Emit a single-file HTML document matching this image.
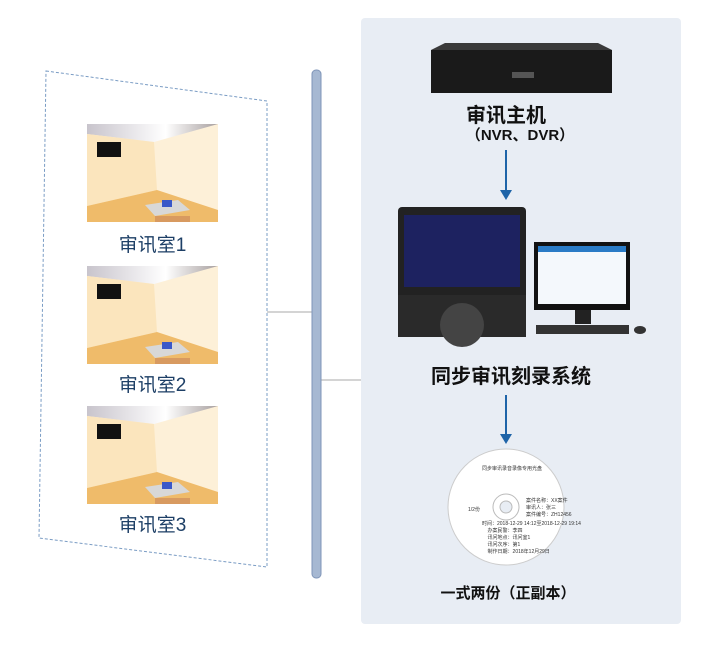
<!DOCTYPE html>
<html><head><meta charset="utf-8"><style>
body{margin:0;width:723px;height:646px;background:#fff;position:relative;overflow:hidden;font-family:"Liberation Sans","Noto Sans CJK SC",sans-serif}
.abs{position:absolute}
.panel{left:361px;top:18px;width:320px;height:606px;background:#e8edf4;border-radius:4px}
.lbl{color:#1d3f66;font-size:19px;width:131px;text-align:center;left:87px}
.t{color:#111;font-weight:bold;text-align:center;width:320px}
.d{font-size:5px;color:#333;position:absolute;white-space:nowrap}
</style></head><body>
<div class="abs panel"></div>
<svg class="abs" style="left:0;top:0" width="723" height="646">
<polygon points="46,71 267,101 267,567 39,538" fill="none" stroke="#7a9cc4" stroke-dasharray="3,2" stroke-width="1"/>
<line x1="267" y1="312" x2="313" y2="312" stroke="#aaa"/>
<line x1="321" y1="380" x2="361" y2="380" stroke="#aaa"/>
<rect x="312" y="70" width="9" height="508" rx="4" fill="#a6b8d2" stroke="#7f95b8"/>
<defs><linearGradient id="c" x1="0" x2="1"><stop offset="0" stop-color="#c8c4cc"/><stop offset=".6" stop-color="#fff"/><stop offset="1" stop-color="#a8a0a0"/></linearGradient></defs>
<g id="room">
<rect x="87" y="124" width="131" height="98" fill="#fdf0d8"/>
<polygon points="87,124 218,124 154,142 87,134" fill="url(#c)"/>
<polygon points="87,134 154,142 157,190 87,206" fill="#fbe5bd"/>
<polygon points="87,206 157,190 218,210 218,222 87,222" fill="#efbb6a"/>
<polygon points="145,205 178,200 190,210 155,216" fill="#d8d8d8"/>
<rect x="155" y="216" width="35" height="6" fill="#d89a60"/>
<rect x="162" y="200" width="10" height="7" fill="#3a58c8"/>
<rect x="97" y="142" width="24" height="15" fill="#111"/>
</g>
<use href="#room" y="142"/><use href="#room" y="282"/>
<polygon points="445,43 598,43 612,50 431,50" fill="#3a3a3a"/>
<rect x="431" y="50" width="181" height="43" fill="#1a1a1a"/>
<rect x="512" y="72" width="22" height="6" fill="#555"/>
<line x1="506" y1="150" x2="506" y2="192" stroke="#1e64a8" stroke-width="2"/><polygon points="500,190 512,190 506,200" fill="#1e64a8"/>
<line x1="506" y1="395" x2="506" y2="436" stroke="#1e64a8" stroke-width="2"/><polygon points="500,434 512,434 506,444" fill="#1e64a8"/>
<rect x="398" y="207" width="128" height="130" rx="4" fill="#222"/>
<rect x="404" y="215" width="116" height="72" fill="#1d2260"/>
<rect x="398" y="295" width="128" height="42" fill="#2a2a2a"/>
<circle cx="462" cy="325" r="22" fill="#444"/>
<rect x="534" y="242" width="96" height="68" fill="#111"/>
<rect x="538" y="246" width="88" height="58" fill="#f4f8fc"/>
<rect x="538" y="246" width="88" height="6" fill="#2a7bc6"/>
<rect x="575" y="310" width="16" height="14" fill="#222"/>
<rect x="536" y="325" width="93" height="9" fill="#333"/>
<ellipse cx="640" cy="330" rx="6" ry="4" fill="#333"/>
<circle cx="506" cy="507" r="58" fill="#fff" stroke="#ccc"/>
<circle cx="506" cy="507" r="13" fill="#fff" stroke="#bbb"/>
<circle cx="506" cy="507" r="6" fill="#e8edf4" stroke="#bbb"/>
</svg>
<div class="d" style="left:482px;top:465px">同步审讯录音录像专用光盘</div>
<div class="d" style="left:468px;top:506px">1/2份</div>
<div class="d" style="left:526px;top:497px">案件名称：XX案件<br>审讯人：张三<br>案件编号：ZH12456</div>
<div class="d" style="left:482px;top:520px">时间：2018-12-29 14:12至2018-12-29 19:14<br>&nbsp;&nbsp;&nbsp;&nbsp;办案民警：李四<br>&nbsp;&nbsp;&nbsp;&nbsp;讯问地点：讯问室1<br>&nbsp;&nbsp;&nbsp;&nbsp;讯问次序：第1<br>&nbsp;&nbsp;&nbsp;&nbsp;制作日期：2018年12月29日</div>
<div class="abs lbl" style="top:230px">审讯室1</div>
<div class="abs lbl" style="top:370px">审讯室2</div>
<div class="abs lbl" style="top:510px">审讯室3</div>
<div class="abs t" style="top:99px;font-size:20px;left:346px">审讯主机</div>
<div class="abs t" style="top:124px;font-size:15px;left:360px">（NVR、DVR）</div>
<div class="abs t" style="top:360px;font-size:20px;left:351px">同步审讯刻录系统</div>
<div class="abs t" style="top:582px;font-size:15px;left:348px">一式两份（正副本）</div>
</body></html>
